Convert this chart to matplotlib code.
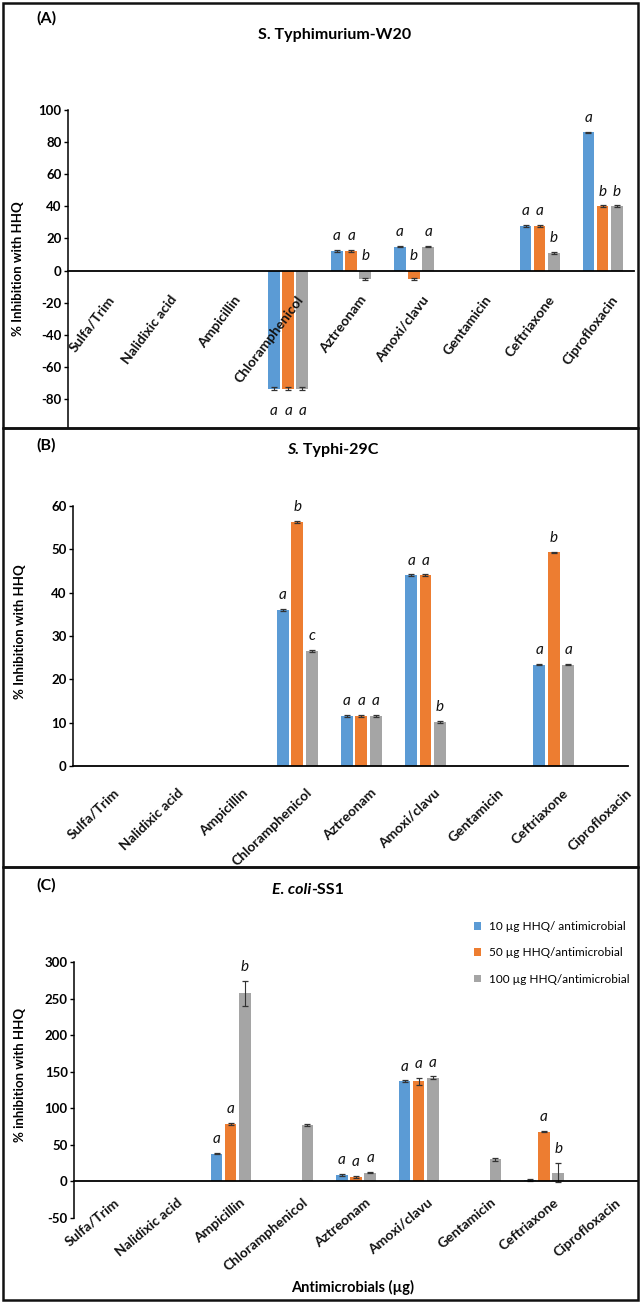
import numpy as np
import matplotlib
matplotlib.use("Agg")
import matplotlib.pyplot as plt
from matplotlib.patches import Rectangle, Patch

plt.rcParams['font.family'] = ['Lato', 'DejaVu Sans']

nan = np.nan
categories = ['Sulfa/Trim', 'Nalidixic acid', 'Ampicillin', 'Chloramphenicol',
              'Aztreonam', 'Amoxi/clavu', 'Gentamicin', 'Ceftriaxone', 'Ciprofloxacin']
series_labels = ['10 µg HHQ/ antimicrobial', '50 µg HHQ/antimicrobial',
                 '100 µg HHQ/antimicrobial']
colors = ['#5B9BD5', '#ED7D31', '#A5A5A5']

# Panel A: S. Typhimurium-W20
a_10 = [nan, nan, nan, -73.5, 12, 15, nan, 28, 86]
a_50 = [nan, nan, nan, -73.5, 12, -5.5, nan, 28, 40]
a_100 = [nan, nan, nan, -73.5, -5.5, 15, nan, 11, 40]
a_10_err = [0, 0, 0, 1, 0.6, 0.6, 0, 0.6, 0.6]
a_50_err = [0, 0, 0, 1, 0.6, 0.6, 0, 0.6, 0.6]
a_100_err = [0, 0, 0, 1, 0.6, 0.6, 0, 0.6, 0.6]
a_10_let = ['', '', '', 'a', 'a', 'a', '', 'a', 'a']
a_50_let = ['', '', '', 'a', 'a', 'b', '', 'a', 'b']
a_100_let = ['', '', '', 'a', 'b', 'a', '', 'b', 'b']

# Panel B: S. Typhi-29C
b_10 = [nan, nan, nan, 36, 11.5, 44, nan, 23.4, nan]
b_50 = [nan, nan, nan, 56.3, 11.5, 44, nan, 49.3, nan]
b_100 = [nan, nan, nan, 26.5, 11.5, 10.2, nan, 23.4, nan]
b_10_err = [0, 0, 0, 0.2, 0.2, 0.2, 0, 0.2, 0]
b_50_err = [0, 0, 0, 0.2, 0.2, 0.2, 0, 0.2, 0]
b_100_err = [0, 0, 0, 0.2, 0.2, 0.2, 0, 0.2, 0]
b_10_let = ['', '', '', 'a', 'a', 'a', '', 'a', '']
b_50_let = ['', '', '', 'b', 'a', 'a', '', 'b', '']
b_100_let = ['', '', '', 'c', 'a', 'b', '', 'a', '']

# Panel C: E. coli-SS1
c_10 = [nan, nan, 38, nan, 9, 137, nan, 2, nan]
c_50 = [nan, nan, 79, nan, 6, 137, nan, 68, nan]
c_100 = [nan, nan, 257, 77, 12, 142, 30, 12, nan]
c_10_err = [0, 0, 1, 0, 1, 1, 0, 1, 0]
c_50_err = [0, 0, 1.5, 0, 1, 5, 0, 1, 0]
c_100_err = [0, 0, 17, 1.5, 1, 1.5, 1.5, 13, 0]
c_10_let = ['', '', 'a', '', 'a', 'a', '', '', '']
c_50_let = ['', '', 'a', '', 'a', 'a', '', 'a', '']
c_100_let = ['', '', 'b', '', 'a', 'a', '', 'b', '']

a_ticks = [-80, -60, -40, -20, 0, 20, 40, 60, 80, 100]
b_ticks = [0, 10, 20, 30, 40, 50, 60]
c_ticks = [-50, 0, 50, 100, 150, 200, 250, 300]

W, H = 643, 1304
fig = plt.figure(figsize=(W / 100, H / 100), dpi=100)


def fx(px):
    return px / W


def fy(py):
    return 1 - py / H


def add_axes(left, right, top, bottom):
    return fig.add_axes([fx(left), fy(bottom), fx(right - left), (bottom - top) / H])


def draw_panel(ax, vals, errs, lets, ylim, yticks, xlim, label_off, rot):
    x = np.arange(len(categories))
    offs = [-0.225, 0, 0.225]
    width = 0.185
    for k in range(3):
        v = np.array(vals[k], dtype=float)
        e = np.array(errs[k], dtype=float)
        mask = ~np.isnan(v)
        ax.bar(x[mask] + offs[k], v[mask], width=width, color=colors[k],
               yerr=e[mask], error_kw=dict(ecolor='#333333', elinewidth=0.8,
                                           capsize=2.2, capthick=0.9),
               zorder=2, label=series_labels[k])
        for i in range(len(categories)):
            if lets[k][i]:
                val = v[i]
                if val < -20:
                    yy = val - e[i]
                    off = -15
                else:
                    yy = max(val, 0) + e[i]
                    off = 10
                ax.annotate(lets[k][i], (x[i] + offs[k], yy), xytext=(0, off),
                            textcoords='offset points', ha='center', va='center',
                            fontsize=11, fontstyle='italic', color='#111111')
    ax.set_xlim(*xlim)
    ax.set_ylim(*ylim)
    ax.set_yticks(yticks)
    ax.set_yticklabels([str(t) for t in yticks], fontsize=9.5, fontweight='bold')
    ax.tick_params(axis='y', length=3, width=1, pad=1.5, direction='out')
    ax.set_xticks([])
    for i, cat in enumerate(categories):
        ax.annotate(cat, (x[i], 0), xytext=label_off,
                    textcoords='offset points', rotation=rot, ha='right',
                    va='center', rotation_mode='anchor', fontsize=10,
                    fontweight='bold', color='#111111', annotation_clip=False)
    for s in ['top', 'right']:
        ax.spines[s].set_visible(False)
    ax.spines['left'].set_linewidth(1.1)
    ax.spines['bottom'].set_position(('data', 0))
    ax.spines['bottom'].set_linewidth(1.3)
    ax.set_facecolor('none')


# Panel A
axA = add_axes(68, 634, 110, 428)
draw_panel(axA, [a_10, a_50, a_100], [a_10_err, a_50_err, a_100_err],
           [a_10_let, a_50_let, a_100_let], (-98, 100), a_ticks, (-0.5, 8.5),
           (9, -19), 53)

# Panel B
axB = add_axes(73, 628, 506, 766)
draw_panel(axB, [b_10, b_50, b_100], [b_10_err, b_50_err, b_100_err],
           [b_10_let, b_50_let, b_100_let], (0, 60), b_ticks, (-0.5, 8.16),
           (9, -18), 44)

# Panel C
axC = add_axes(74, 638, 962, 1218)
draw_panel(axC, [c_10, c_50, c_100], [c_10_err, c_50_err, c_100_err],
           [c_10_let, c_50_let, c_100_let], (-50, 300), c_ticks, (-0.5, 8.5),
           (9, -14), 40)

# Panel frames
for top, bot in [(3, 428), (428, 867), (867, 1300)]:
    fig.patches.append(Rectangle((fx(3), fy(bot)), fx(635), (bot - top) / H,
                                 transform=fig.transFigure, fill=False,
                                 edgecolor='#111111', linewidth=1.8))

# Panel letters
for lab, yy in [('(A)', 18), ('(B)', 445), ('(C)', 885)]:
    fig.text(fx(46), fy(yy), lab, ha='center', va='center', fontsize=11.5,
             fontweight='bold')


def mixed_title(xc, yc, parts, size=11.5):
    renderer = fig.canvas.get_renderer()
    objs = []
    for s, st in parts:
        t = fig.text(0, fy(yc), s, fontsize=size, fontweight='bold', fontstyle=st,
                     ha='left', va='center')
        w = t.get_window_extent(renderer).width
        objs.append((t, w))
    total = sum(w for _, w in objs)
    start = xc - total / 2
    for t, w in objs:
        t.set_x(fx(start))
        start += w


mixed_title(335, 35, [('S. Typhimurium-W20', 'normal')])
mixed_title(333, 450, [('S.', 'italic'), (' Typhi-29C', 'normal')])
mixed_title(308, 890, [('E. coli', 'italic'), ('-SS1', 'normal')])

# Y labels
fig.text(fx(18), fy(269), '% Inhibition with HHQ', rotation=90, ha='center',
         va='center', fontsize=9.5, fontweight='bold')
fig.text(fx(20), fy(632), '% Inhibition with HHQ', rotation=90, ha='center',
         va='center', fontsize=9.5, fontweight='bold')
fig.text(fx(20), fy(1075), '% inhibition with HHQ', rotation=90, ha='center',
         va='center', fontsize=9.5, fontweight='bold')

# X label
fig.text(fx(353), fy(1287), 'Antimicrobials (µg)', ha='center', va='center',
         fontsize=10.5, fontweight='bold')

# Legend
handles = [Patch(facecolor=c, edgecolor='none') for c in colors]
fig.legend(handles, series_labels, loc='upper left',
           bbox_to_anchor=(fx(474), fy(921)), frameon=False, fontsize=8.5,
           handlelength=0.6, handleheight=0.6, handletextpad=0.7,
           labelspacing=1.3, borderpad=0, borderaxespad=0)

fig.savefig('out.png', dpi=100)
